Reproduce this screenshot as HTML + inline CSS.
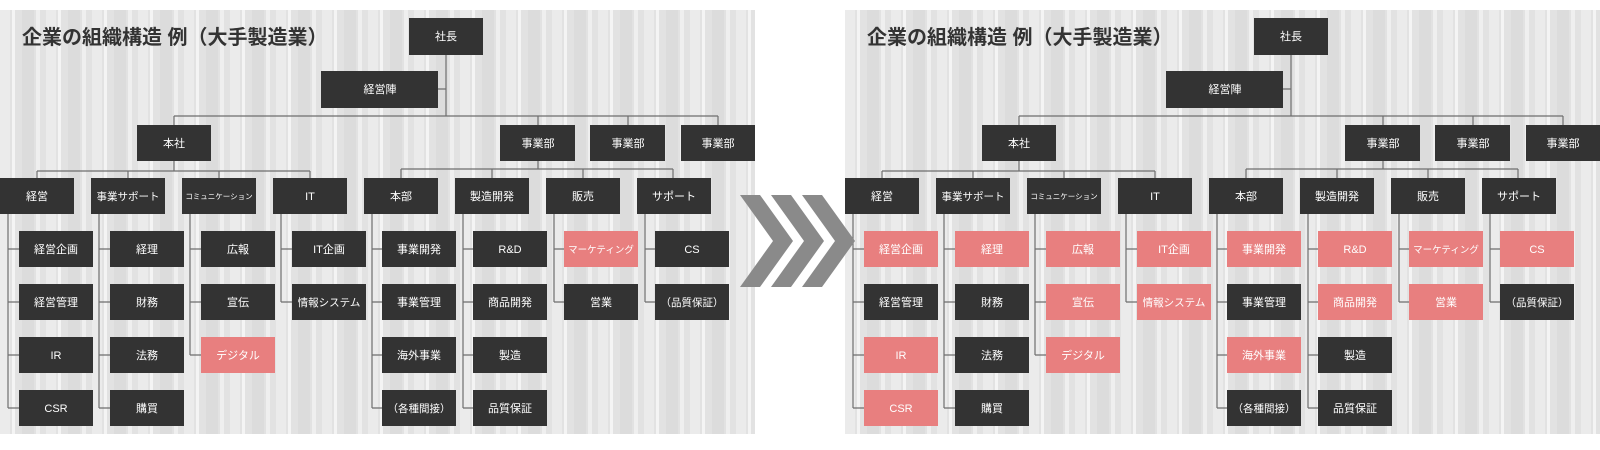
<!DOCTYPE html>
<html><head><meta charset="utf-8">
<style>
html,body{margin:0;padding:0;background:#fff;width:1600px;height:450px;overflow:hidden}
svg{display:block}
text{font-family:"Liberation Sans","Noto Sans CJK JP",sans-serif}
</style></head><body>
<svg width="1600" height="450" viewBox="0 0 1600 450" xmlns="http://www.w3.org/2000/svg">
<defs>
<pattern id="stripes" width="46" height="450" patternUnits="userSpaceOnUse">
<rect width="46" height="450" fill="#e2e2e2"/>
<rect x="0" width="10" height="450" fill="#ebebeb"/>
<rect x="12" width="3" height="450" fill="#f4f4f4"/>
<rect x="22" width="12" height="450" fill="#dcdcdc"/>
<rect x="36" width="4" height="450" fill="#efefef"/>
</pattern>
<g id="lines" stroke="#6e6e6e" stroke-width="1.2" fill="none">
<path d="M446 55V116M438 89H446M174 116H718M174 116V125M538 116V125M628 116V125M718 116V125"/>
<path d="M174 161V171M37 171H310M37 171V178M128 171V178M219 171V178M310 171V178"/>
<path d="M538 161V169M401 169H673M401 169V178M492 169V178M583 169V178M673 169V178"/>
<path d="M8 214V408M8 249H19M8 302H19M8 355H19M8 408H19"/>
<path d="M99 214V408M99 249H110M99 302H110M99 355H110M99 408H110"/>
<path d="M190 214V355M190 249H201M190 302H201M190 355H201"/>
<path d="M281 214V302M281 249H292M281 302H292"/>
<path d="M372 214V408M372 249H382M372 302H382M372 355H382M372 408H382"/>
<path d="M463 214V408M463 249H473M463 302H473M463 355H473M463 408H473"/>
<path d="M554 214V302M554 249H564M554 302H564"/>
<path d="M645 214V302M645 249H655M645 302H655"/>
</g>
<g id="top" font-size="11" fill="#fff" text-anchor="middle">
<rect x="409" y="18" width="74" height="37" fill="#333"/><text x="446" y="40" fill="#fff">社長</text>
<rect x="321" y="71" width="117" height="37" fill="#333"/><text x="380" y="93" fill="#fff">経営陣</text>
<rect x="137" y="125" width="74" height="36" fill="#333"/><text x="174" y="147" fill="#fff">本社</text>
<rect x="500" y="125" width="75" height="36" fill="#333"/><text x="538" y="147" fill="#fff">事業部</text>
<rect x="590" y="125" width="75" height="36" fill="#333"/><text x="628" y="147" fill="#fff">事業部</text>
<rect x="681" y="125" width="74" height="36" fill="#333"/><text x="718" y="147" fill="#fff">事業部</text>
<rect x="0" y="178" width="74" height="36" fill="#333"/><text x="37" y="200" fill="#fff">経営</text>
<rect x="91" y="178" width="74" height="36" fill="#333"/><text x="128" y="200" fill="#fff" font-size="10.5">事業サポート</text>
<rect x="182" y="178" width="74" height="36" fill="#333"/><text x="219" y="199" fill="#fff" font-size="7.5">コミュニケーション</text>
<rect x="273" y="178" width="74" height="36" fill="#333"/><text x="310" y="200" fill="#fff">IT</text>
<rect x="364" y="178" width="74" height="36" fill="#333"/><text x="401" y="200" fill="#fff">本部</text>
<rect x="455" y="178" width="74" height="36" fill="#333"/><text x="492" y="200" fill="#fff">製造開発</text>
<rect x="546" y="178" width="74" height="36" fill="#333"/><text x="583" y="200" fill="#fff">販売</text>
<rect x="637" y="178" width="74" height="36" fill="#333"/><text x="674" y="200" fill="#fff">サポート</text>
</g>
</defs>

<!-- LEFT PANEL -->
<rect x="0" y="10" width="755" height="424" fill="url(#stripes)"/>
<text x="22" y="44" font-size="20" font-weight="bold" fill="#333">企業の組織構造 例（大手製造業）</text>
<use href="#lines"/>
<use href="#top"/>
<g font-size="11" text-anchor="middle" fill="#fff">
<rect x="19" y="231" width="74" height="36" fill="#333"/><text x="56" y="253">経営企画</text>
<rect x="19" y="284" width="74" height="36" fill="#333"/><text x="56" y="306">経営管理</text>
<rect x="19" y="337" width="74" height="36" fill="#333"/><text x="56" y="359">IR</text>
<rect x="19" y="390" width="74" height="36" fill="#333"/><text x="56" y="412">CSR</text>
<rect x="110" y="231" width="74" height="36" fill="#333"/><text x="147" y="253">経理</text>
<rect x="110" y="284" width="74" height="36" fill="#333"/><text x="147" y="306">財務</text>
<rect x="110" y="337" width="74" height="36" fill="#333"/><text x="147" y="359">法務</text>
<rect x="110" y="390" width="74" height="36" fill="#333"/><text x="147" y="412">購買</text>
<rect x="201" y="231" width="74" height="36" fill="#333"/><text x="238" y="253">広報</text>
<rect x="201" y="284" width="74" height="36" fill="#333"/><text x="238" y="306">宣伝</text>
<rect x="201" y="337" width="74" height="36" fill="#e87f7f"/><text x="238" y="359">デジタル</text>
<rect x="292" y="231" width="74" height="36" fill="#333"/><text x="329" y="253">IT企画</text>
<rect x="292" y="284" width="74" height="36" fill="#333"/><text x="329" y="306" font-size="10.5">情報システム</text>
<rect x="382" y="231" width="74" height="36" fill="#333"/><text x="419" y="253">事業開発</text>
<rect x="382" y="284" width="74" height="36" fill="#333"/><text x="419" y="306">事業管理</text>
<rect x="382" y="337" width="74" height="36" fill="#333"/><text x="419" y="359">海外事業</text>
<rect x="382" y="390" width="74" height="36" fill="#333"/><text x="419" y="412" font-size="10.5">（各種間接）</text>
<rect x="473" y="231" width="74" height="36" fill="#333"/><text x="510" y="253">R&amp;D</text>
<rect x="473" y="284" width="74" height="36" fill="#333"/><text x="510" y="306">商品開発</text>
<rect x="473" y="337" width="74" height="36" fill="#333"/><text x="510" y="359">製造</text>
<rect x="473" y="390" width="74" height="36" fill="#333"/><text x="510" y="412">品質保証</text>
<rect x="564" y="231" width="74" height="36" fill="#e87f7f"/><text x="601" y="253" font-size="9.5">マーケティング</text>
<rect x="564" y="284" width="74" height="36" fill="#333"/><text x="601" y="306">営業</text>
<rect x="655" y="231" width="74" height="36" fill="#333"/><text x="692" y="253">CS</text>
<rect x="655" y="284" width="74" height="36" fill="#333"/><text x="692" y="306" font-size="10.5">（品質保証）</text>
</g>

<!-- RIGHT PANEL -->
<g transform="translate(845,0)">
<rect x="0" y="10" width="755" height="424" fill="url(#stripes)"/>
<text x="22" y="44" font-size="20" font-weight="bold" fill="#333">企業の組織構造 例（大手製造業）</text>
<use href="#lines"/>
<use href="#top"/>
<g font-size="11" text-anchor="middle" fill="#fff">
<rect x="19" y="231" width="74" height="36" fill="#e87f7f"/><text x="56" y="253">経営企画</text>
<rect x="19" y="284" width="74" height="36" fill="#333"/><text x="56" y="306">経営管理</text>
<rect x="19" y="337" width="74" height="36" fill="#e87f7f"/><text x="56" y="359">IR</text>
<rect x="19" y="390" width="74" height="36" fill="#e87f7f"/><text x="56" y="412">CSR</text>
<rect x="110" y="231" width="74" height="36" fill="#e87f7f"/><text x="147" y="253">経理</text>
<rect x="110" y="284" width="74" height="36" fill="#333"/><text x="147" y="306">財務</text>
<rect x="110" y="337" width="74" height="36" fill="#333"/><text x="147" y="359">法務</text>
<rect x="110" y="390" width="74" height="36" fill="#333"/><text x="147" y="412">購買</text>
<rect x="201" y="231" width="74" height="36" fill="#e87f7f"/><text x="238" y="253">広報</text>
<rect x="201" y="284" width="74" height="36" fill="#e87f7f"/><text x="238" y="306">宣伝</text>
<rect x="201" y="337" width="74" height="36" fill="#e87f7f"/><text x="238" y="359">デジタル</text>
<rect x="292" y="231" width="74" height="36" fill="#e87f7f"/><text x="329" y="253">IT企画</text>
<rect x="292" y="284" width="74" height="36" fill="#e87f7f"/><text x="329" y="306" font-size="10.5">情報システム</text>
<rect x="382" y="231" width="74" height="36" fill="#e87f7f"/><text x="419" y="253">事業開発</text>
<rect x="382" y="284" width="74" height="36" fill="#333"/><text x="419" y="306">事業管理</text>
<rect x="382" y="337" width="74" height="36" fill="#e87f7f"/><text x="419" y="359">海外事業</text>
<rect x="382" y="390" width="74" height="36" fill="#333"/><text x="419" y="412" font-size="10.5">（各種間接）</text>
<rect x="473" y="231" width="74" height="36" fill="#e87f7f"/><text x="510" y="253">R&amp;D</text>
<rect x="473" y="284" width="74" height="36" fill="#e87f7f"/><text x="510" y="306">商品開発</text>
<rect x="473" y="337" width="74" height="36" fill="#333"/><text x="510" y="359">製造</text>
<rect x="473" y="390" width="74" height="36" fill="#333"/><text x="510" y="412">品質保証</text>
<rect x="564" y="231" width="74" height="36" fill="#e87f7f"/><text x="601" y="253" font-size="9.5">マーケティング</text>
<rect x="564" y="284" width="74" height="36" fill="#e87f7f"/><text x="601" y="306">営業</text>
<rect x="655" y="231" width="74" height="36" fill="#e87f7f"/><text x="692" y="253">CS</text>
<rect x="655" y="284" width="74" height="36" fill="#333"/><text x="692" y="306" font-size="10.5">（品質保証）</text>
</g>
</g>

<!-- chevrons -->
<g fill="#8a8a8a">
<polygon points="740,195 760,195 793,241 760,287 740,287 773,241"/>
<polygon points="771,195 791,195 824,241 791,287 771,287 804,241"/>
<polygon points="802,195 822,195 855,241 822,287 802,287 835,241"/>
</g>
</svg>
</body></html>
